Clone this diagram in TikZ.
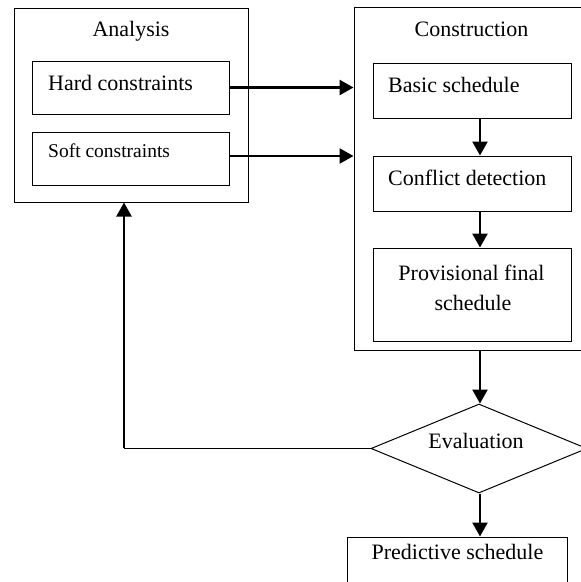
\documentclass[tikz,border=0pt]{standalone}
\usepackage{fontspec}
\setmainfont{Liberation Serif}
\usetikzlibrary{arrows.meta,shapes.geometric,calc}
\tikzset{
  box/.style={draw, rectangle, line width=1pt, inner sep=0pt},
  lbl/.style={inner sep=0pt, font=\fontsize{22}{26}\selectfont},
  lblsmall/.style={inner sep=0pt, font=\fontsize{19.5}{23}\selectfont},
  flow/.style={line width=2.6pt, -{Triangle[length=14pt,width=15pt]}},
}
\begin{document}
\begin{tikzpicture}[x=1pt,y=-1pt]
\clip (0,0) rectangle (581,582);
\fill[white] (0,0) rectangle (581,582);
% boxes
\node[box, minimum width=234pt, minimum height=194pt] (analysis) at (131,105) {};
\node[box, minimum width=197pt, minimum height=53pt] (hard) at (130.5,87.5) {};
\node[box, minimum width=197pt, minimum height=53pt] (soft) at (130.5,158.5) {};
\node[box, minimum width=236pt, minimum height=343pt] (construction) at (472,178.5) {};
\node[box, minimum width=198pt, minimum height=55pt] (basic) at (472,90.5) {};
\node[box, minimum width=198pt, minimum height=55pt] (conflict) at (472,183.5) {};
\node[box, minimum width=198pt, minimum height=93pt] (prov) at (472,294.5) {};
\node[box, minimum width=220pt, minimum height=63pt] (predictive) at (457,568.5) {};
\node[draw, diamond, line width=1pt, inner sep=0pt, minimum width=216pt, minimum height=89pt] (eval) at (479,448.5) {};
% texts
\node[lbl, anchor=base] (tanalysis) at (131,36) {Analysis};
\node[lbl, anchor=base west] (thard) at (48,90.7) {Hard constraints};
\node[lblsmall, anchor=base west] (tsoft) at (48,157.7) {Soft constraints};
\node[lbl, anchor=base] (tconstr) at (471.5,36) {Construction};
\node[lbl, anchor=base west] (tbasic) at (388,92.7) {Basic schedule};
\node[lbl, anchor=base west] (tconf) at (388,185) {Conflict detection};
\node[lbl, anchor=base] (tprov1) at (471.5,280.7) {Provisional final};
\node[lbl, anchor=base] (tprov2) at (473,310) {schedule};
\node[lbl, anchor=base] (teval) at (476,448.3) {Evaluation};
\node[lbl, anchor=base] (tpred) at (457.5,559.3) {Predictive schedule};
% connectors
\coordinate (ax) at (480,0);
\coordinate (fb) at (124,448.5);
\draw[flow] (hard.east) -- (hard.east -| construction.west);
\draw[flow] ([yshift=2.5pt]soft.east) -- ([yshift=2.5pt]soft.east -| construction.west);
\draw[flow] (basic.south -| ax) -- (conflict.north -| ax);
\draw[flow] (conflict.south -| ax) -- (prov.north -| ax);
\draw[flow] (construction.south -| ax) -- (eval.north -| ax);
\draw[flow] (eval.south -| ax) -- (predictive.north -| ax);
\draw[line width=1.2pt] (eval.west) -- (fb);
\draw[line width=2.2pt, -{Triangle[length=14pt,width=15pt]}] ([yshift=0.6pt]fb) -- (fb |- analysis.south);
\end{tikzpicture}
\end{document}
